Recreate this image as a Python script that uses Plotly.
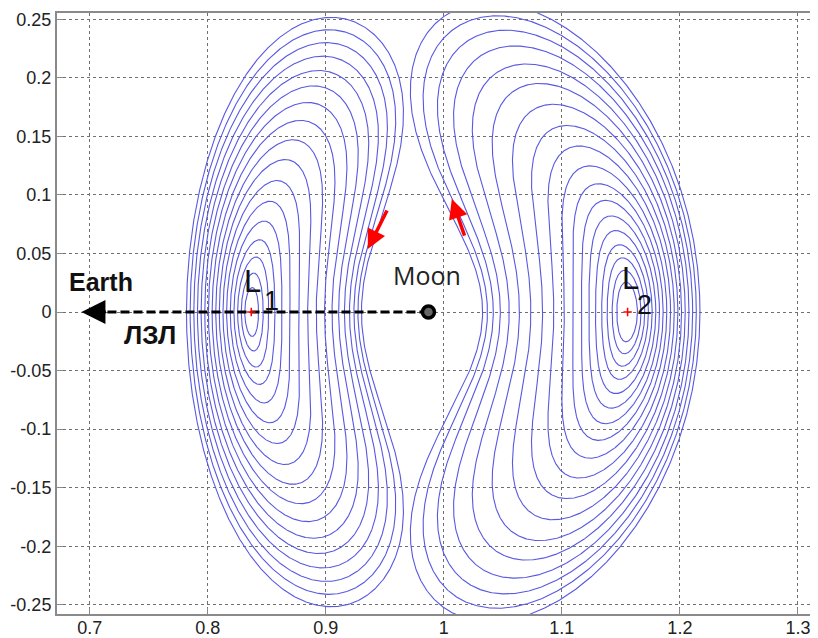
import math
import plotly.graph_objects as go

# ---------------- data ----------------
MU = 0.01215                       # Earth-Moon mass ratio (CR3BP)
LIB_X = [0.8369, 1.1557]           # L1, L2 positions (red crosses)
LIB_Y = [0.0, 0.0]
MOON_X = [0.987]
MOON_Y = [0.0]
EARTH_ARROW_X = [0.987, 0.700]     # dashed line Moon -> Earth
EARTH_ARROW_Y = [0.0, 0.0]

# x where each L1 Lyapunov orbit crosses y=0 on the Earth side (outer -> inner)
L1_START_X = [0.7820, 0.7851, 0.7882, 0.7913, 0.7944, 0.7975, 0.8006, 0.8037, 0.8068,
              0.8098, 0.8129, 0.8160, 0.8191, 0.8222, 0.8253, 0.8284, 0.8314]
# x where each L2 Lyapunov orbit crosses y=0 on the far side (outer -> inner)
L2_START_X = [1.2170, 1.2139, 1.2108, 1.2077, 1.2045, 1.2014, 1.1983, 1.1952, 1.1921,
              1.1889, 1.1858, 1.1827, 1.1796, 1.1765, 1.1733, 1.1702, 1.1671, 1.1640]

X_TICKS = [0.7, 0.8, 0.9, 1.0, 1.1, 1.2, 1.3]
X_TICKTEXT = ["0.7", "0.8", "0.9", "1", "1.1", "1.2", "1.3"]
Y_TICKS = [0.25, 0.2, 0.15, 0.1, 0.05, 0.0, -0.05, -0.1, -0.15, -0.2, -0.25]
Y_TICKTEXT = ["0.25", "0.2", "0.15", "0.1", "0.05", "0", "-0.05", "-0.1", "-0.15", "-0.2", "-0.25"]


# ---------------- planar CR3BP Lyapunov orbits ----------------
def accel(x, y, vx, vy):
    dx1 = x + MU
    dx2 = x - 1.0 + MU
    y2 = y * y
    r1 = dx1 * dx1 + y2
    r1 = r1 * math.sqrt(r1)
    r2 = dx2 * dx2 + y2
    r2 = r2 * math.sqrt(r2)
    a = (1.0 - MU) / r1
    b = MU / r2
    return (2.0 * vy + x - a * dx1 - b * dx2, -2.0 * vx + y - a * y - b * y)


def rk4(s, h):
    x, y, vx, vy = s
    a1x, a1y = accel(x, y, vx, vy)
    x2 = x + 0.5 * h * vx; y2 = y + 0.5 * h * vy
    vx2 = vx + 0.5 * h * a1x; vy2 = vy + 0.5 * h * a1y
    a2x, a2y = accel(x2, y2, vx2, vy2)
    x3 = x + 0.5 * h * vx2; y3 = y + 0.5 * h * vy2
    vx3 = vx + 0.5 * h * a2x; vy3 = vy + 0.5 * h * a2y
    a3x, a3y = accel(x3, y3, vx3, vy3)
    x4 = x + h * vx3; y4 = y + h * vy3
    vx4 = vx + h * a3x; vy4 = vy + h * a3y
    a4x, a4y = accel(x4, y4, vx4, vy4)
    h6 = h / 6.0
    return (x + h6 * (vx + 2 * vx2 + 2 * vx3 + vx4),
            y + h6 * (vy + 2 * vy2 + 2 * vy3 + vy4),
            vx + h6 * (a1x + 2 * a2x + 2 * a3x + a4x),
            vy + h6 * (a1y + 2 * a2y + 2 * a3y + a4y))


def step_size(s):
    dx2 = s[0] - 1.0 + MU
    r2 = math.sqrt(dx2 * dx2 + s[1] * s[1])
    return min(0.004, 0.03 * r2 ** 1.5 / math.sqrt(MU))


def half_orbit(x0, vy0, keep=False):
    s = (x0, 0.0, 0.0, vy0)
    sgn = 1.0 if vy0 > 0 else -1.0
    t = 0.0
    pts = [(x0, 0.0)]
    for _ in range(60000):
        h = step_size(s)
        sn = rk4(s, h)
        t += h
        if t > 0.5 and sn[1] * sgn <= 0.0:
            hh = h * s[1] / (s[1] - sn[1])
            for _ in range(5):
                se = rk4(s, hh)
                if se[3] == 0:
                    break
                hh -= se[1] / se[3]
            se = rk4(s, hh)
            pts.append((se[0], 0.0))
            return se, pts
        s = sn
        if keep:
            pts.append((s[0], s[1]))
    return None, pts


def correct(x0, guess):
    def f(v):
        se, _ = half_orbit(x0, v)
        return se[2] if se is not None else float("nan")
    v0, v1 = guess, guess * 1.002
    f0, f1 = f(v0), f(v1)
    for _ in range(40):
        if not (abs(f1) > 1e-11) or f1 == f0:
            break
        v2 = v1 - f1 * (v1 - v0) / (f1 - f0)
        v0, f0 = v1, f1
        v1, f1 = v2, f(v2)
    return v1


def family(xl, starts):
    c2 = (1 - MU) / abs(xl + MU) ** 3 + MU / abs(xl - 1 + MU) ** 3
    w = math.sqrt((2 - c2 + math.sqrt(9 * c2 * c2 - 8 * c2)) / 2)
    k = (w * w + 1 + 2 * c2) / (2 * w)
    order = sorted(range(len(starts)), key=lambda i: abs(starts[i] - xl))
    hist = []
    xs, ys = [], []
    for i in order:
        xi = starts[i] - xl
        if len(hist) >= 2:
            (a0, u0), (a1, u1) = hist[-2], hist[-1]
            g = u1 + (u1 - u0) * (xi - a1) / (a1 - a0)
        else:
            g = -k * w * xi
        v = correct(starts[i], g)
        hist.append((xi, v))
        se, pts = half_orbit(starts[i], v, keep=True)
        if se is None:
            continue
        full = pts + [(p[0], -p[1]) for p in reversed(pts)]
        xs += [p[0] for p in full] + [None]
        ys += [p[1] for p in full] + [None]
    return xs, ys


l1x, l1y = family(LIB_X[0], L1_START_X)
l2x, l2y = family(LIB_X[1], L2_START_X)

# ---------------- figure ----------------
BLUE = "rgb(88,88,226)"
fig = go.Figure()
fig.add_trace(go.Scatter(x=l1x, y=l1y, mode="lines", line=dict(color=BLUE, width=1.1),
                         hoverinfo="skip", connectgaps=False))
fig.add_trace(go.Scatter(x=l2x, y=l2y, mode="lines", line=dict(color=BLUE, width=1.1),
                         hoverinfo="skip", connectgaps=False))
fig.add_trace(go.Scatter(x=EARTH_ARROW_X, y=EARTH_ARROW_Y, mode="lines",
                         line=dict(color="black", width=3, dash="9px,4px"), hoverinfo="skip"))
fig.add_trace(go.Scatter(x=LIB_X, y=LIB_Y, mode="markers",
                         marker=dict(symbol="cross-thin", size=6, line=dict(color="red", width=1.5)),
                         hoverinfo="skip"))
fig.add_trace(go.Scatter(x=MOON_X, y=MOON_Y, mode="markers",
                         marker=dict(symbol="circle", size=12, color="#666",
                                     line=dict(color="black", width=3.5)),
                         hoverinfo="skip"))

ann = []
# arrow head toward Earth
ann.append(dict(x=0.693, y=0.0, ax=0.715, ay=0.0, xref="x", yref="y", axref="x", ayref="y",
                text="", showarrow=True, arrowhead=2, arrowsize=1.6, arrowwidth=3, arrowcolor="black"))
# red direction arrows
ann.append(dict(x=0.9356, y=0.0538, ax=0.9525, ay=0.0880, xref="x", yref="y", axref="x", ayref="y",
                text="", showarrow=True, arrowhead=2, arrowsize=1.1, arrowwidth=3.5, arrowcolor="red"))
ann.append(dict(x=1.0068, y=0.0964, ax=1.0180, ay=0.0640, xref="x", yref="y", axref="x", ayref="y",
                text="", showarrow=True, arrowhead=2, arrowsize=1.1, arrowwidth=3.5, arrowcolor="red"))
TXT = "Liberation Sans, Arial, sans-serif"
ann.append(dict(x=0.7095, y=0.0255, text="<b>Earth</b>", showarrow=False,
                font=dict(family=TXT, size=25, color="#111")))
ann.append(dict(x=0.7508, y=-0.0194, text="<b>ЛЗЛ</b>", showarrow=False,
                font=dict(family=TXT, size=26, color="#111")))
ann.append(dict(x=0.9860, y=0.0318, text="Moon", showarrow=False,
                font=dict(family="Open Sans, sans-serif", size=25, color="#222")))
ann.append(dict(x=0.8381, y=0.0265, text="L", showarrow=False,
                font=dict(family=TXT, size=31, color="#111")))
ann.append(dict(x=0.8537, y=0.0090, text="1", showarrow=False,
                font=dict(family=TXT, size=27, color="#111")))
ann.append(dict(x=1.1585, y=0.0286, text="L", showarrow=False,
                font=dict(family=TXT, size=31, color="#111")))
ann.append(dict(x=1.1697, y=0.0064, text="2", showarrow=False,
                font=dict(family=TXT, size=27, color="#111")))

axis_common = dict(showgrid=True, gridcolor="#707070", griddash="3px,3px", gridwidth=1,
                   zeroline=False, showline=True, linecolor="#8a8a8a", linewidth=2,
                   ticks="inside", ticklen=6, tickcolor="#8a8a8a", automargin=False,
                   tickfont=dict(family=TXT, size=18, color="#222"))
fig.update_xaxes(range=[0.6723, 1.317], tickvals=X_TICKS, ticktext=X_TICKTEXT,
                 mirror=True, ticklabelstandoff=-4, **axis_common)
fig.update_yaxes(range=[-0.2578, 0.2553], tickvals=Y_TICKS, ticktext=Y_TICKTEXT,
                 mirror=False, **axis_common)
# the page body adds an 8px offset; margins compensate so the plot box lands at
# x 57..818, y 13..614 of the window
fig.update_layout(width=818, height=638, margin=dict(l=49, r=8, t=5, b=32),
                  plot_bgcolor="white", paper_bgcolor="white", showlegend=False,
                  annotations=ann)
fig.write_html("out.html")
